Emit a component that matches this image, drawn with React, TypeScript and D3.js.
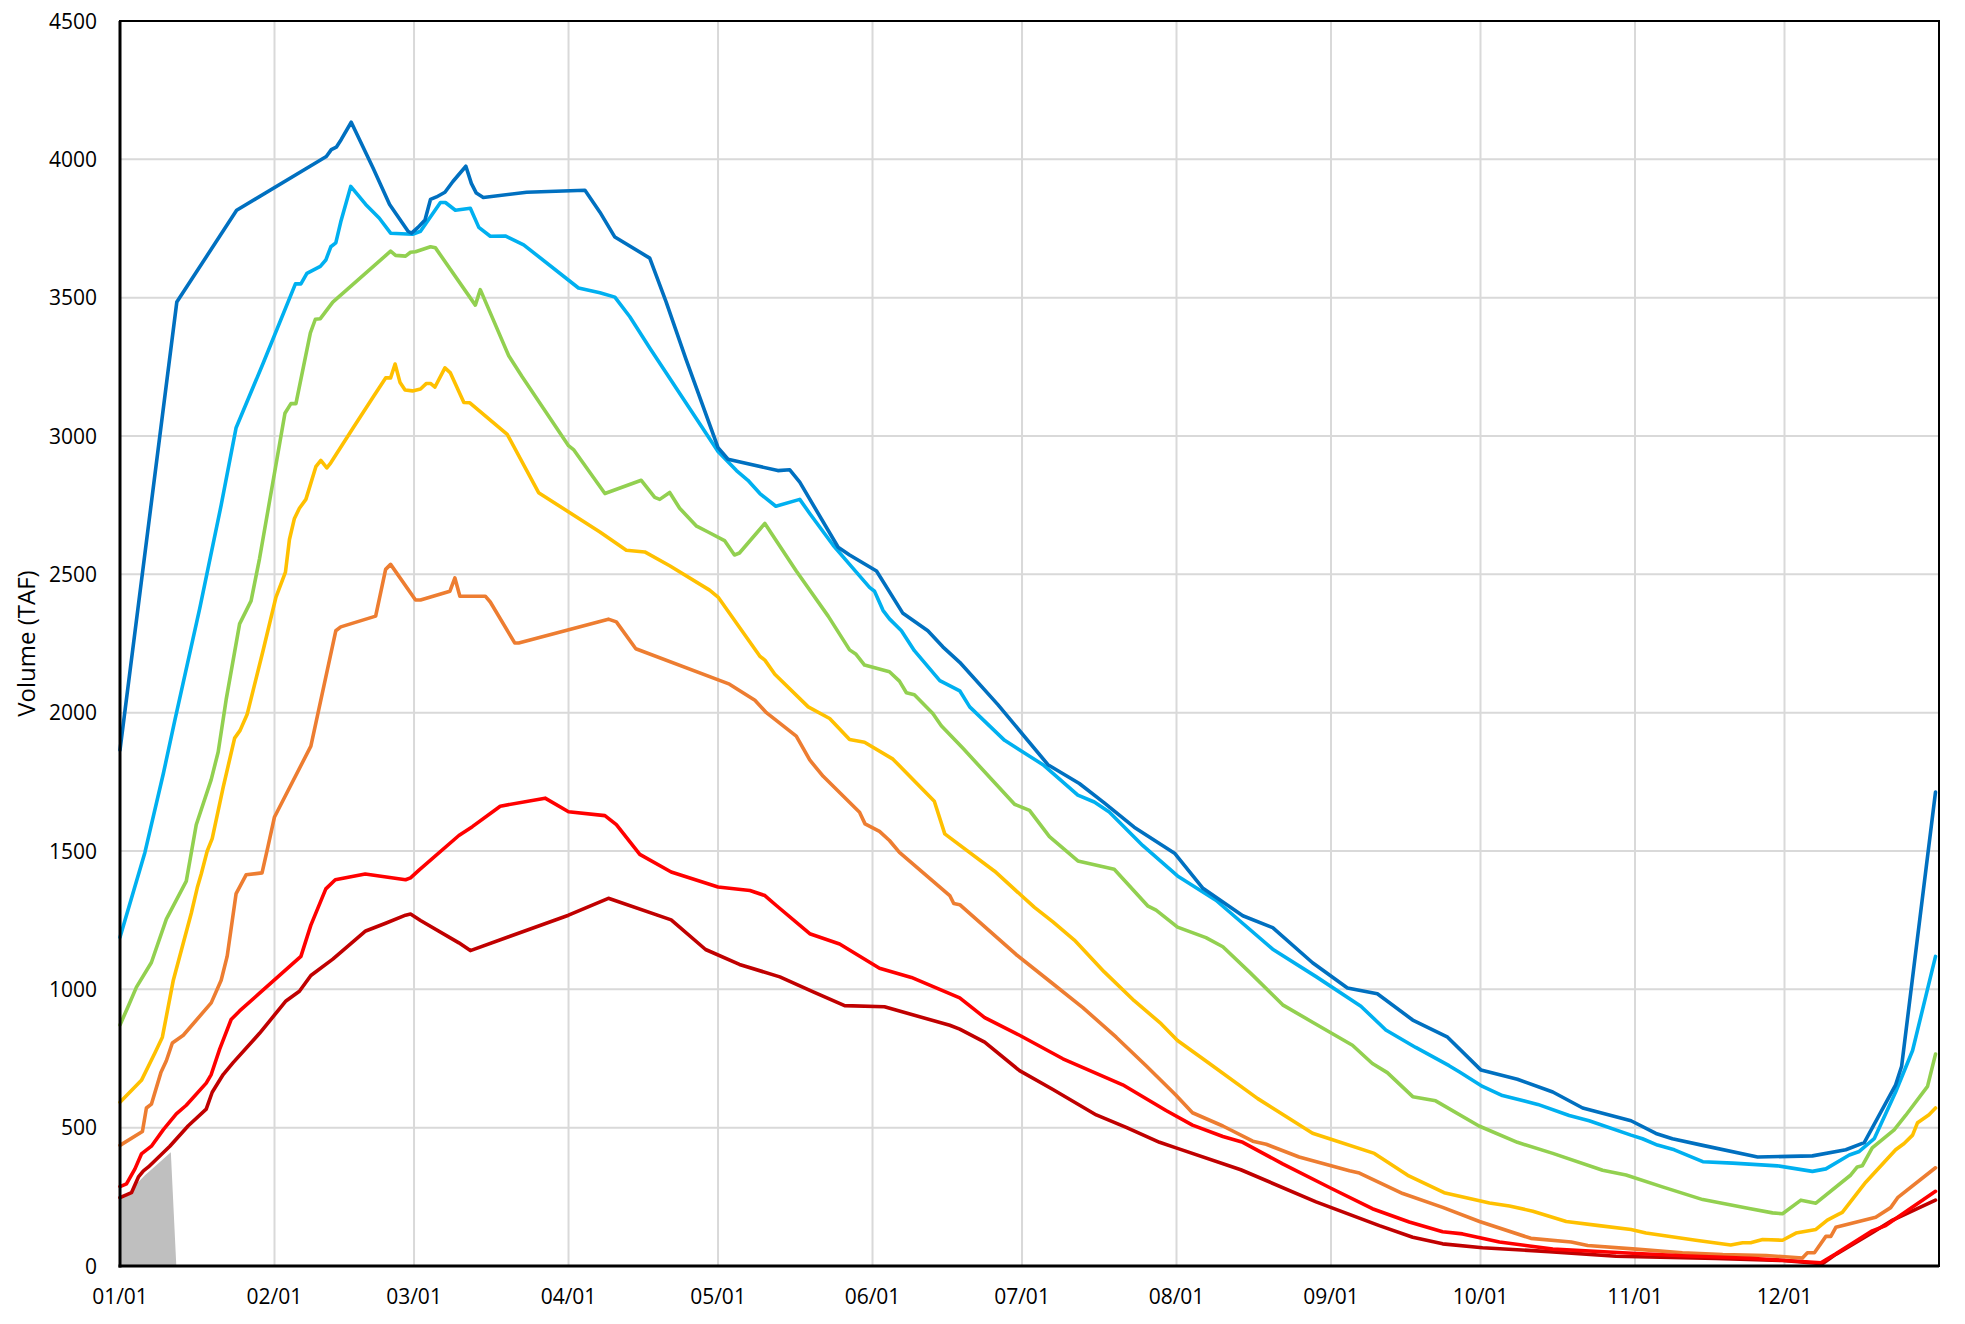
import * as d3 from "d3";

// Reservoir volume traces (TAF) by day of year.
type Pt = [number, number];

const monthLabels = ["01/01", "02/01", "03/01", "04/01", "05/01", "06/01", "07/01", "08/01", "09/01", "10/01", "11/01", "12/01"];
const monthStartDays = [0, 31, 59, 90, 120, 151, 181, 212, 243, 273, 304, 334];
const yTicks = [0, 500, 1000, 1500, 2000, 2500, 3000, 3500, 4000, 4500];

const darkBlueSeries: Pt[] = [
  [0, 1865], [11.4, 3484], [23.4, 3816], [41.4, 4010], [42.4, 4035], [43.4, 4044], [44.4, 4072], [46.4, 4134],
  [50.8, 3968], [54.1, 3837], [57.8, 3740], [58.5, 3733], [59.8, 3754], [61.2, 3781], [62.3, 3855], [63.5, 3864],
  [65.2, 3881], [66.8, 3920], [69.4, 3975], [70.5, 3913], [71.5, 3878], [72.9, 3862], [81.6, 3881], [93.3, 3888],
  [96.3, 3809], [99.3, 3719], [106.3, 3643], [109.6, 3484], [113.6, 3276], [120, 2958], [122, 2916], [132, 2875],
  [134.4, 2878], [136.4, 2833], [144.1, 2598], [146.4, 2570], [151.8, 2512], [157.1, 2359], [162.1, 2296],
  [165.1, 2238], [168.5, 2182], [176.2, 2028], [186.2, 1812], [192.5, 1744], [197.5, 1674], [203.5, 1586],
  [211.6, 1492], [217.3, 1365], [225.3, 1266], [231.3, 1223], [239.3, 1096], [246.3, 1005], [252.3, 984],
  [259.4, 889], [266.4, 827], [273.1, 708], [280.4, 675], [287.5, 629], [293.5, 571], [303.2, 525], [308.2, 479],
  [311.5, 460], [317.6, 436], [328.6, 394], [339.6, 398], [346.3, 420], [350, 446], [356.3, 655], [357.5, 722],
  [364.3, 1713],
];

const lightBlueSeries: Pt[] = [
  [0, 1188], [5, 1495], [8.7, 1780], [11, 1972], [16, 2377], [20.3, 2750], [23.3, 3030], [28.7, 3262], [35.2, 3550],
  [36.3, 3550], [37.5, 3588], [40.2, 3613], [41.3, 3636], [42.3, 3684], [43.3, 3698], [44.3, 3774], [46.3, 3902],
  [49.3, 3837], [52, 3788], [54.3, 3733], [58.7, 3729], [60.3, 3740], [64.3, 3844], [65.3, 3844], [67.3, 3816],
  [70.3, 3823], [72, 3754], [74.3, 3722], [77.3, 3723], [81, 3691], [92, 3535], [96.3, 3518], [99.3, 3502],
  [102.3, 3431], [106.3, 3318], [120, 2944], [123.7, 2875], [126, 2840], [128.4, 2792], [131.6, 2746],
  [136.4, 2771], [138.4, 2720], [143.1, 2605], [146.4, 2536], [150.4, 2453], [151.4, 2439], [153.1, 2370],
  [154.4, 2339], [156.8, 2296], [159.4, 2224], [164.5, 2116], [168.5, 2079], [170.5, 2021], [177.5, 1900],
  [185.2, 1812], [192.2, 1702], [195.5, 1677], [198.5, 1641], [205.2, 1520], [212.2, 1410], [219.9, 1322],
  [231.3, 1145], [240, 1046], [249, 939], [254, 853], [260, 790], [266.7, 724], [268.8, 701], [273.4, 649],
  [277.4, 616], [284.5, 584], [290.8, 544], [294.8, 525], [303.2, 473], [305.5, 460], [308.5, 437], [311.9, 420],
  [317.6, 377], [323.6, 372], [332.6, 362], [339.6, 342], [342.3, 351], [347, 401], [349, 414], [352, 460],
  [356.3, 629], [359.7, 779], [364.3, 1119],
];

const greenSeries: Pt[] = [
  [0, 871], [1.7, 941], [3.3, 1008], [6.3, 1097], [9.3, 1254], [13.3, 1391], [15.3, 1595], [18.3, 1758],
  [19.7, 1858], [21.3, 2047], [24, 2321], [26.3, 2404], [28, 2557], [33.1, 3082], [34.3, 3117], [35.3, 3117],
  [38.2, 3373], [39.2, 3422], [40.2, 3424], [42.7, 3484], [54.3, 3668], [55.3, 3653], [57.3, 3650], [58.3, 3664],
  [59.3, 3666], [62.3, 3684], [63.3, 3680], [71.3, 3473], [72.3, 3529], [78, 3290], [80.7, 3214], [90, 2965],
  [91, 2951], [97.3, 2792], [104.6, 2840], [107.3, 2778], [108.3, 2771], [110.3, 2796], [112.3, 2739],
  [115.7, 2674], [118, 2653], [121.3, 2622], [123.3, 2570], [124.3, 2577], [129.4, 2684], [135.7, 2512],
  [142.1, 2349], [146.4, 2227], [147.7, 2211], [149.4, 2172], [154.4, 2148], [156.4, 2114], [157.8, 2072],
  [159.4, 2065], [163.1, 1997], [164.8, 1953], [169.1, 1872], [179.5, 1669], [182.5, 1647], [186.5, 1552],
  [192.2, 1464], [199.5, 1434], [206.2, 1302], [207.9, 1286], [212.2, 1225], [217.9, 1187], [221.3, 1154],
  [226.6, 1063], [233.3, 944], [239.3, 881], [247.3, 798], [251.3, 732], [254.3, 699], [259.4, 612], [264, 597],
  [272.7, 506], [280.4, 447], [287.5, 407], [297.5, 346], [302.2, 329], [309.5, 286], [317.6, 240], [326.9, 208],
  [331.6, 192], [333.6, 189], [337.3, 238], [340.3, 227], [347.3, 329], [348.6, 358], [349.6, 362], [351.6, 427],
  [356, 492], [358.3, 544], [362.7, 649], [364.3, 766],
];

const yellowSeries: Pt[] = [
  [0, 592], [4.3, 671], [7, 770], [8.5, 827], [10.7, 1033], [14.3, 1275], [15.5, 1367], [16.3, 1417], [17.5, 1500],
  [18.5, 1545], [20.7, 1730], [23, 1908], [24.1, 1936], [25.5, 1993], [28.7, 2224], [31.3, 2418], [33.2, 2508],
  [34, 2626], [35, 2702], [36, 2739], [37.3, 2771], [39.3, 2889], [40.3, 2912], [41.5, 2885], [42.3, 2903],
  [46.7, 3027], [50.7, 3138], [53.3, 3210], [54.3, 3210], [55.2, 3260], [56.2, 3193], [57.2, 3166], [58.7, 3163],
  [60.3, 3170], [61.5, 3190], [62.3, 3190], [63.2, 3177], [65.2, 3246], [66.3, 3228], [69, 3121], [70.2, 3120],
  [77.7, 3006], [84, 2795], [96.3, 2653], [101.6, 2587], [105.3, 2581], [110.3, 2531], [118.3, 2443], [120, 2418],
  [128.4, 2204], [129.4, 2190], [131.4, 2139], [138.1, 2021], [142.4, 1979], [146.4, 1903], [149.4, 1893],
  [155.1, 1832], [163.4, 1680], [165.5, 1562], [175.5, 1427], [183.5, 1296], [187.2, 1244], [191.5, 1178],
  [197.5, 1063], [203.5, 959], [208.9, 876], [212.2, 815], [218.6, 732], [228.3, 605], [239.3, 480], [242.7, 460],
  [251.7, 407], [258.4, 328], [265.7, 265], [274.8, 228], [278.8, 217], [283.5, 198], [290.2, 161], [296.8, 146],
  [303.2, 132], [306.2, 119], [316.2, 93], [323.2, 76], [325.6, 84], [327.2, 84], [329.6, 96], [333.6, 93],
  [336.3, 119], [340.3, 132], [342.6, 166], [344.6, 185], [345.6, 194], [350.3, 303], [356.3, 420], [358, 443],
  [359.7, 473], [360.7, 518], [363, 547], [364.3, 571],
];

const orangeSeries: Pt[] = [
  [0, 436], [4.5, 486], [5.3, 571], [6.3, 585], [8.2, 699], [9.3, 742], [10.5, 806], [12.7, 834], [18.3, 951],
  [20.3, 1033], [21.5, 1119], [23.3, 1346], [25.3, 1414], [28.5, 1421], [29.7, 1517], [31, 1623], [38.3, 1879],
  [43.3, 2296], [44.3, 2310], [51.3, 2349], [53.3, 2518], [54.3, 2536], [59.3, 2407], [60.3, 2407], [66.2, 2439],
  [67.2, 2487], [68.2, 2421], [73.3, 2421], [74.3, 2400], [79.2, 2252], [80, 2252], [98, 2338], [99.6, 2328],
  [103.5, 2231], [122.3, 2103], [127.4, 2045], [129.7, 2000], [135.7, 1915], [138.4, 1829], [141.1, 1770],
  [148.4, 1640], [149.5, 1598], [152.4, 1571], [154.4, 1538], [156.4, 1495], [166.5, 1339], [167.3, 1310],
  [168.5, 1306], [179.8, 1126], [186.5, 1030], [193.2, 934], [199.9, 827], [205.9, 724], [211.9, 617],
  [215.2, 554], [221.3, 506], [227.3, 451], [230, 440], [236.6, 394], [246.7, 344], [248.7, 336], [257.4, 262],
  [265.4, 212], [272.8, 161], [283.1, 100], [291.2, 87], [294.5, 74], [304.2, 61], [313.5, 48], [321.6, 41],
  [330.3, 38], [337.6, 29], [338.6, 48], [340, 48], [342.3, 107], [343.3, 107], [344.3, 140], [352.3, 176],
  [355.3, 211], [356.7, 247], [364.3, 355],
];

const redSeries: Pt[] = [
  [0, 287], [1.3, 297], [3, 351], [4.3, 405], [6.3, 433], [8.7, 493], [11.3, 550], [13.3, 581], [17.3, 661],
  [18.3, 692], [20, 784], [22.3, 891], [24, 922], [28, 986], [36.3, 1119], [38.3, 1232], [41.3, 1363], [43.2, 1396],
  [49.2, 1417], [57.3, 1396], [58.3, 1403], [60, 1431], [68, 1556], [70.7, 1588], [76.3, 1662], [85.3, 1691],
  [90, 1642], [97.3, 1628], [99.6, 1595], [104.3, 1488], [110.6, 1424], [120, 1370], [126.4, 1357], [129.4, 1339],
  [131.7, 1303], [138.4, 1201], [144.4, 1164], [152.4, 1076], [158.8, 1043], [168.5, 969], [173.5, 898],
  [180.5, 834], [189.2, 749], [201.2, 655], [209.9, 562], [215.2, 509], [221.3, 468], [225.3, 447], [233.3, 369],
  [243, 281], [251.3, 207], [258.7, 159], [265.4, 124], [269.4, 116], [276.8, 87], [287.5, 61], [301.5, 48],
  [313.5, 37], [326.9, 28], [341.3, 12], [344.3, 44], [351.6, 127], [354.3, 146], [364.3, 270],
];

const darkRedSeries: Pt[] = [
  [0, 247], [2.3, 265], [3.7, 322], [4.7, 344], [5.7, 358], [10, 433], [13.7, 507], [17.3, 567], [18.5, 628],
  [20.7, 692], [22.7, 735], [28, 841], [33.3, 958], [36, 993], [38.3, 1050], [42.7, 1109], [49.3, 1211],
  [53.3, 1239], [57.3, 1268], [58.3, 1272], [60.3, 1249], [68, 1168], [70.3, 1140], [78, 1190], [90, 1268],
  [98, 1329], [110.6, 1251], [117.5, 1144], [124.3, 1090], [132.4, 1045], [139.1, 991], [145.4, 941],
  [153.4, 937], [166.5, 870], [168.5, 856], [173.5, 809], [180.5, 706], [187.2, 638], [195.9, 546], [201.9, 501],
  [208.6, 447], [211.9, 427], [224.9, 348], [240, 232], [252.7, 146], [259.4, 104], [265.4, 80], [273.4, 66],
  [286.8, 52], [300.2, 35], [320.2, 27], [333.6, 20], [341.6, 8], [344.3, 42], [351.6, 120], [355.7, 166],
  [364.3, 238],
];

// current year so far (grey area)
const currentYear: Pt[] = [[0, 245], [2, 258], [3.5, 300], [5, 328], [7, 360], [10.2, 411], [11.3, 0]];

const seriesList: { data: Pt[]; color: string }[] = [
  { data: lightBlueSeries, color: "#00B0F0" },
  { data: darkBlueSeries, color: "#0070C0" },
  { data: greenSeries, color: "#92D050" },
  { data: yellowSeries, color: "#FFC000" },
  { data: orangeSeries, color: "#ED7D31" },
  { data: darkRedSeries, color: "#C00000" },
  { data: redSeries, color: "#FF0000" },
];

const width = 1965;
const height = 1324;
const margin = { top: 21, right: 26, bottom: 58, left: 120 };
const font = "'Open Sans', 'Noto Sans', sans-serif";

export default function App() {
  const x = d3.scaleLinear().domain([0, 365]).range([margin.left, width - margin.right]);
  const y = d3.scaleLinear().domain([0, 4500]).range([height - margin.bottom, margin.top]);

  const line = d3
    .line<Pt>()
    .x((d) => x(d[0]))
    .y((d) => y(d[1]))
    .curve(d3.curveLinear);

  const area = d3
    .area<Pt>()
    .x((d) => x(d[0]))
    .y0(y(0))
    .y1((d) => y(d[1]));

  const [x0, x1] = x.range();
  const [y0, y1] = y.range();

  return (
    <div style={{ position: "absolute", left: 0, top: 0 }}>
      <svg width={width} height={height} style={{ display: "block", background: "#fff" }}>
        {/* gridlines */}
        {yTicks.map((t) => (
          <line key={"gy" + t} x1={x0} x2={x1} y1={y(t)} y2={y(t)} stroke="#D9D9D9" strokeWidth={2} />
        ))}
        {monthStartDays.map((d) => (
          <line key={"gx" + d} x1={x(d)} x2={x(d)} y1={y0} y2={y1} stroke="#D9D9D9" strokeWidth={2} />
        ))}

        <path d={area(currentYear) || ""} fill="#BFBFBF" />

        {seriesList.map((s, i) => (
          <path
            key={i}
            d={line(s.data) || ""}
            fill="none"
            stroke={s.color}
            strokeWidth={3.6}
            strokeLinejoin="round"
            strokeLinecap="round"
          />
        ))}

        {/* plot frame */}
        <rect x={x0} y={y1} width={x1 - x0} height={y0 - y1} fill="none" stroke="#000" strokeWidth={2} />
        <line x1={x0} x2={x0} y1={y1} y2={y0 + 1.5} stroke="#000" strokeWidth={3} />
        <line x1={x0 - 1.5} x2={x1} y1={y0} y2={y0} stroke="#000" strokeWidth={3} />

        {/* y tick labels */}
        {yTicks.map((t) => (
          <text key={"ty" + t} x={x0 - 23} y={y(t) + 7.5} textAnchor="end" fontFamily={font} fontSize={21} fill="#000">
            {t}
          </text>
        ))}

        {/* x tick labels */}
        {monthStartDays.map((d, i) => (
          <text key={"tx" + d} x={x(d)} y={y0 + 38} textAnchor="middle" fontFamily={font} fontSize={21} fill="#000">
            {monthLabels[i]}
          </text>
        ))}

        <text
          transform={`translate(35, ${(y0 + y1) / 2}) rotate(-90)`}
          textAnchor="middle"
          fontFamily={font}
          fontSize={24}
          fill="#000"
        >
          Volume (TAF)
        </text>
      </svg>
    </div>
  );
}
